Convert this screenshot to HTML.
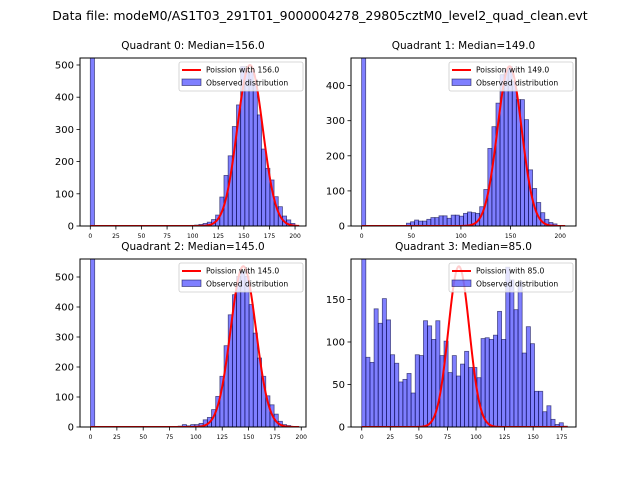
<!DOCTYPE html>
<html><head><meta charset="utf-8"><style>
body{margin:0;background:#fff;}
svg text{font-family:"DejaVu Sans","Liberation Sans",sans-serif;}
</style></head><body>
<svg id="fig" width="640" height="480" xmlns="http://www.w3.org/2000/svg">
<rect width="640" height="480" fill="#fff"/>
<text x="320" y="20" text-anchor="middle" font-size="12.5">Data file: modeM0/AS1T03_291T01_9000004278_29805cztM0_level2_quad_clean.evt</text>
</svg>
<script>
const titles=["Quadrant 0: Median=156.0","Quadrant 1: Median=149.0","Quadrant 2: Median=145.0","Quadrant 3: Median=85.0"];
const medians=[156,149,145,85];
const binWidths=[4.08,4.1,3.96,3.6];
const poissonPeaks=[500,455,536,189];
const q0Counts=[1500,0,0,0,0,0,0,0,0,0,0,0,0,0,0,0,0,0,0,0,0,0,0,0,2,3,5,8,12,20,34,90,157,218,309,376,495,480,480,443,345,239,179,143,91,60,31,19,8,0];
const q1Counts=[1500,0,0,0,0,0,0,0,0,0,0,8,12,17,14,14,19,24,24,29,29,22,31,31,28,36,40,38,36,55,104,221,283,350,431,445,454,412,360,360,303,160,107,67,38,19,10,6,0,0];
const q2Counts=[1500,0,0,0,0,0,0,0,0,0,0,0,0,0,0,0,0,0,0,0,0,3,8,4,8,8,12,24,32,58,102,169,271,374,441,502,519,502,408,313,230,169,104,74,43,19,8,5,0,0];
const q3Counts=[300,82,76,139,122,151,126,85,75,53,56,63,40,85,84,125,119,103,125,84,101,64,84,60,74,89,70,70,58,104,105,103,108,136,103,188,173,138,171,87,118,98,42,42,18,25,9,3,5,1];
const allCounts=[q0Counts,q1Counts,q2Counts,q3Counts];
const xTicks0=[0,25,50,75,100,125,150,175,200];
const xTicks1=[0,50,100,150,200];
const xTicks2=[0,25,50,75,100,125,150,175,200];
const xTicks3=[0,25,50,75,100,125,150,175];
const allXTicks=[xTicks0,xTicks1,xTicks2,xTicks3];
const yTicks0=[0,100,200,300,400,500];
const yTicks1=[0,100,200,300,400];
const yTicks2=[0,100,200,300,400,500];
const yTicks3=[0,50,100,150];
const allYTicks=[yTicks0,yTicks1,yTicks2,yTicks3];
const xLims=[[-10.06,210.7],[-10.7,215.9],[-9.99,204.5],[-9.4,187.5]];
const yLims=[521.7,478.6,560,197.6];

const NS="http://www.w3.org/2000/svg";
const fig=document.getElementById('fig');
const boxes=[[80,58,306,226],[351,58,576,226],[80,259,306,427],[351,259,576,427]];
function mk(tag,attrs,parent){const e=document.createElementNS(NS,tag);for(const k in attrs)e.setAttribute(k,attrs[k]);(parent||fig).appendChild(e);return e;}
for(let q=0;q<4;q++){
  const [x0,y0,x1,y1]=boxes[q];
  const g=mk('g',{});
  
  
  const xs=v=>x0+(v-xLims[q][0])/(xLims[q][1]-xLims[q][0])*(x1-x0);
  const ys=v=>y1-v/yLims[q]*(y1-y0);
  const clipId='clip'+q;
  const cp=mk('clipPath',{id:clipId},g);mk('rect',{x:x0,y:y0,width:x1-x0,height:y1-y0},cp);
  const inner=mk('g',{'clip-path':'url(#'+clipId+')'},g);
  const bw=binWidths[q];
  allCounts[q].forEach((c,i)=>{
    if(c<=0)return;
    const r=mk('rect',{x:xs(i*bw),y:ys(c),width:xs((i+1)*bw)-xs(i*bw),height:ys(0)-ys(c),fill:'rgba(0,0,255,0.5)',stroke:'rgba(0,0,60,0.6)','stroke-width':0.8},inner);
    
    
  });
  const lam=medians[q],amp=poissonPeaks[q],xmax=bw*50;
  let d='';
  for(let i=0;i<=300;i++){const v=xmax*i/300;const p=amp*Math.exp(-(v-lam)*(v-lam)/(2*lam));d+=(i?'L':'M')+xs(v).toFixed(2)+' '+ys(p).toFixed(2);}
  const pl=mk('path',{d:d,fill:'none',stroke:'red','stroke-width':2},inner);
  
  
  mk('rect',{x:x0,y:y0,width:x1-x0,height:y1-y0,fill:'none',stroke:'#000','stroke-width':1},g);
  allXTicks[q].forEach(t=>{
    mk('line',{x1:xs(t),x2:xs(t),y1:y1,y2:y1+3.5,stroke:'#000','stroke-width':0.8},g);
    const tx=mk('text',{x:xs(t),y:y1+12,'font-size':6,'text-anchor':'middle'},g);tx.textContent=t;
    
    
  });
  allYTicks[q].forEach(t=>{
    mk('line',{x1:x0-3.5,x2:x0,y1:ys(t),y2:ys(t),stroke:'#000','stroke-width':0.8},g);
    const tx=mk('text',{x:x0-6,y:ys(t)+3.5,'font-size':10,'text-anchor':'end'},g);tx.textContent=t;
    
    
  });
  const ti=mk('text',{x:(x0+x1)/2,y:y0-9,'font-size':10.5,'text-anchor':'middle'},g);ti.textContent=titles[q];
  
  
  const lg=mk('g',{},g);
  
  
  const lx=x1-127,ly=y0+4;
  mk('rect',{x:lx,y:ly,width:124,height:29,fill:'rgba(255,255,255,0.8)',stroke:'#ccc','stroke-width':0.8,rx:2},lg);
  mk('line',{x1:lx+3,x2:lx+22,y1:ly+8,y2:ly+8,stroke:'red','stroke-width':2},lg);
  const t1=mk('text',{x:lx+27,y:ly+10.5,'font-size':7.6},lg);t1.textContent='Poission with '+lam.toFixed(1);
  mk('rect',{x:lx+3,y:ly+17,width:19,height:6.5,fill:'rgba(0,0,255,0.5)',stroke:'rgba(0,0,60,0.6)','stroke-width':0.8},lg);
  const t2=mk('text',{x:lx+27,y:ly+23.5,'font-size':7.6},lg);t2.textContent='Observed distribution';
}
</script>
</body></html>
